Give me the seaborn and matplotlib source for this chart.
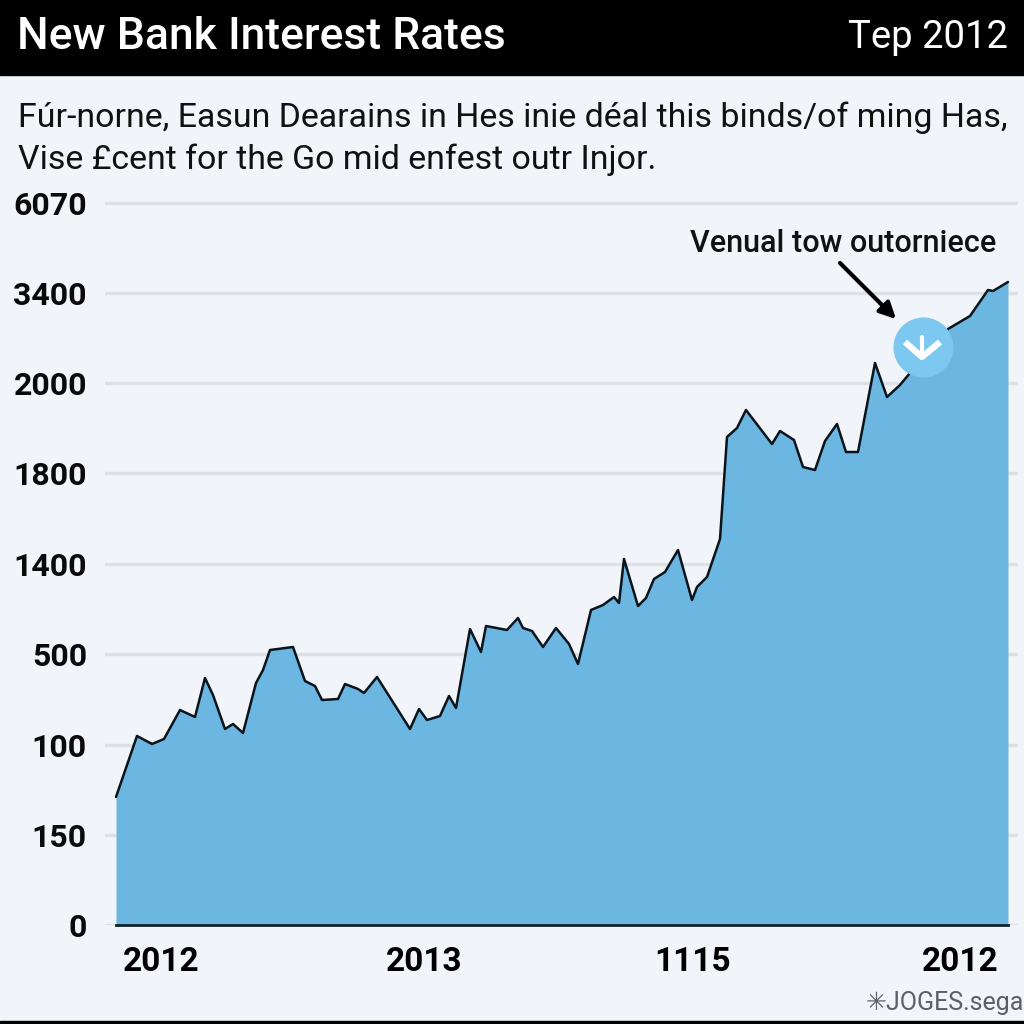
import matplotlib
matplotlib.use("Agg")
import matplotlib.pyplot as plt
from matplotlib.transforms import ScaledTranslation
import pandas as pd
import seaborn as sns

title = "New Bank Interest Rates"
date_label = "Tep 2012"
subtitle_1 = "Fúr-norne, Easun Dearains in Hes inie déal this binds/of ming Has,"
subtitle_2 = "Vise £cent for the Go mid enfest outr Injor."
annotation = "Venual tow outorniece"
watermark = "✳JOGES.sega"

x_steps = [-2, 19, 34, 46, 62, 77, 87, 95, 107, 115, 125, 138, 145, 152, 175, 187, 197, 204, 220, 227,
           240, 246, 259, 292, 301, 309, 322, 331, 338, 352, 363, 368, 389, 400, 405, 414, 425, 438, 451, 460,
           473, 485, 496, 501, 506, 520, 528, 536, 547, 560, 574, 579, 589, 602, 609, 619, 628, 654, 662, 676,
           685, 697, 707, 719, 728, 740, 757, 769, 782, 792, 812, 830, 852, 870, 875, 890]
levels = [128, 189, 181, 186, 215, 208, 247, 230, 196, 201, 192, 242, 255, 275, 278, 244, 239, 225, 226, 241,
          236, 232, 248, 196, 216, 205, 209, 229, 217, 296, 273, 299, 295, 307, 297, 294, 278, 297, 281, 261,
          315, 320, 328, 322, 366, 319, 327, 346, 353, 375, 325, 338, 348, 386, 488, 497, 515, 481, 494, 485,
          458, 455, 484, 501, 473, 473, 562, 528, 540, 552, 580, 596, 609, 635, 634, 643]
x_tick_pos = [0, 263, 531, 799]
x_tick_labels = ["2012", "2013", "1115", "2012"]
y_tick_pos = [0, 90, 180, 271, 361, 452, 542, 632, 722]
y_tick_labels = ["0", "150", "100", "500", "1400", "1800", "2000", "3400", "6070"]

BG = "#F1F4F8"
FILL = "#6CB6E2"
FONT = ["Roboto", "DejaVu Sans"]

sns.set_theme(style="white")
plt.rcParams["font.family"] = FONT
df = pd.DataFrame({"step": x_steps, "level": levels})

fig = plt.figure(figsize=(10.24, 10.24), dpi=100, facecolor=BG)
px = lambda x, y: (x / 1024, 1 - y / 1024)

# header and footer bands
fig.patches.append(plt.Rectangle((0, 1 - 75 / 1024), 1, 75 / 1024, transform=fig.transFigure, color="black"))
fig.patches.append(plt.Rectangle((0, 0), 1, 3 / 1024, transform=fig.transFigure, color="black"))

ax = fig.add_axes([105 / 1024, 1 - 925 / 1024, 913 / 1024, 730 / 1024], facecolor=BG)
ax.set_xlim(-13, 900)
ax.set_ylim(0, 730)

ax.fill_between(x_steps, levels, 0, color=FILL, lw=0, zorder=2)
sns.lineplot(data=df, x="step", y="level", ax=ax, color="#0A141C", lw=1.8, sort=False, zorder=3,
             estimator=None)
ax.set_xlabel("")
ax.set_ylabel("")

ax.set_yticks(y_tick_pos, y_tick_labels, fontsize=23, fontweight="bold", color="#0A0A0A")
ax.set_xticks(x_tick_pos, x_tick_labels, fontsize=24, fontweight="bold", color="black")
ax.yaxis.grid(True, color="#DDE1E5", lw=2.4, zorder=1)
ax.xaxis.grid(False)
ax.set_axisbelow(True)
ax.tick_params(axis="y", length=0, pad=13)
ax.tick_params(axis="x", length=5, width=2, color="#10202C", pad=10)
offset = ScaledTranslation(5 / 100, 0, fig.dpi_scale_trans)
for lab in ax.get_xticklabels():
    lab.set_ha("left")
    lab.set_transform(lab.get_transform() + offset)
for s in ["top", "left", "right"]:
    ax.spines[s].set_visible(False)
ax.spines["bottom"].set_color("#10202C")
ax.spines["bottom"].set_linewidth(2)
ax.spines["bottom"].set_bounds(-2, 890)

# annotation marker and arrow
ax.scatter([805], [578], s=1870, color="#7CC8F0", lw=0, zorder=5)
ax.plot([787, 804, 822], [583, 568, 583], color="white", lw=4.5, zorder=6, solid_capstyle="butt")
ax.plot([804, 804], [568, 588], color="white", lw=3, zorder=6)
ax.annotate("", xy=(780, 604), xytext=(720, 664),
            arrowprops=dict(arrowstyle="-|>", color="black", lw=3, mutation_scale=24), zorder=6)

fig.text(*px(17, 37), title, fontsize=32, color="white", va="center", ha="left", fontweight="medium")
fig.text(*px(1008, 38), date_label, fontsize=27.5, color="white", va="center", ha="right")
fig.text(*px(18, 118), subtitle_1, fontsize=24.4, color="#111111", va="center", ha="left")
fig.text(*px(18, 160), subtitle_2, fontsize=24.4, color="#111111", va="center", ha="left")
fig.text(*px(996, 243), annotation, fontsize=22, color="#111111", va="center", ha="right", fontweight="medium")
fig.text(*px(1024, 1003), watermark, fontsize=18, color="#5A6066", va="center", ha="right")

fig.savefig("out.png", dpi=100, facecolor=BG)
